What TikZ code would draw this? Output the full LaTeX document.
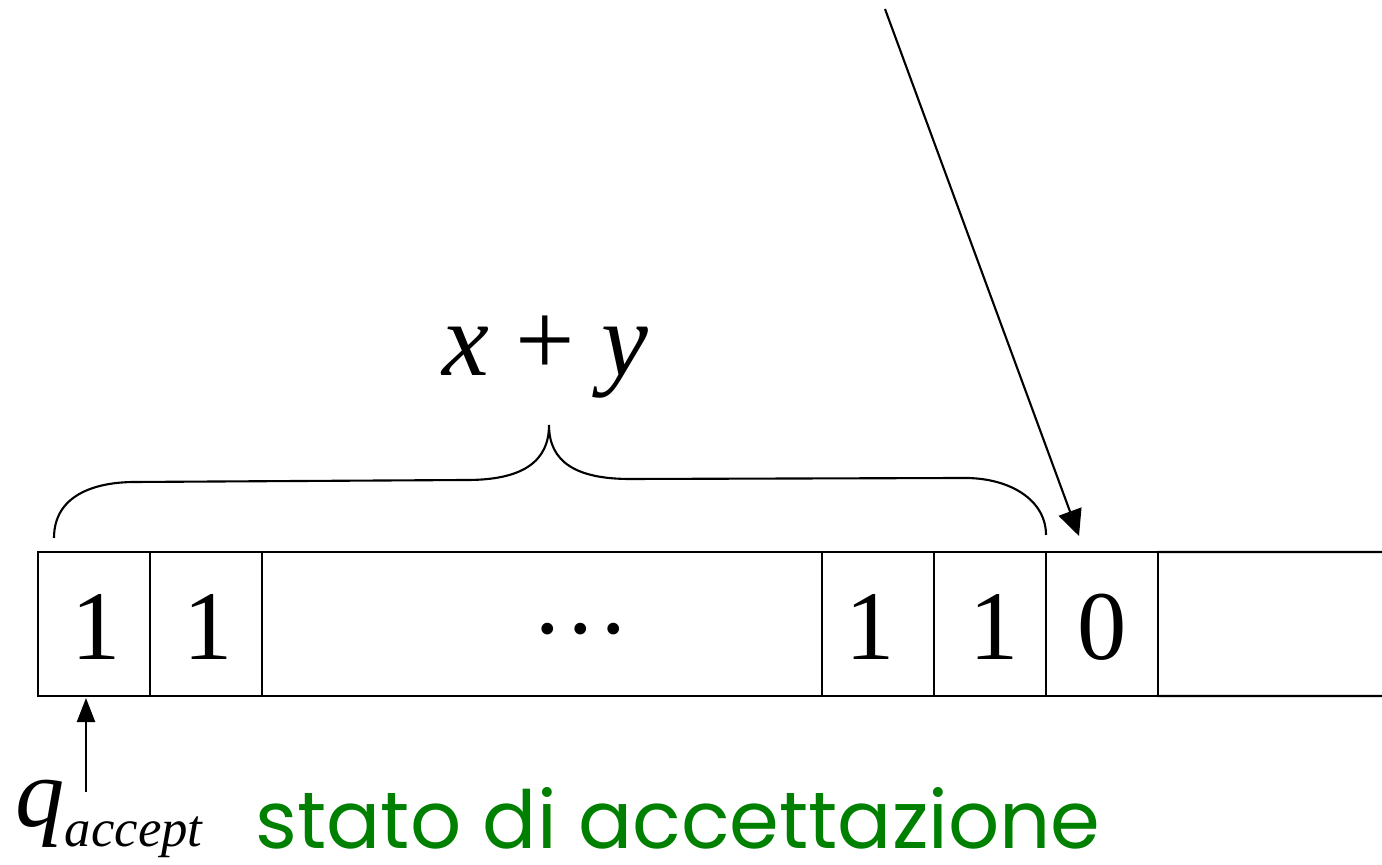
\documentclass[tikz,border=0pt]{standalone}
\usepackage{fontspec}
\setmainfont{Liberation Serif}
\newfontfamily\notefont{Poppins}
\usepackage{tikz}
\usetikzlibrary{arrows.meta}
\definecolor{notegreen}{RGB}{0,128,0}
\tikzset{
  cellbox/.style  = {draw,semithick,minimum width=1.12cm,minimum height=1.44cm,inner sep=0pt,outer sep=0pt},
  symb/.style     = {font=\fontsize{28}{30}\selectfont,inner sep=0pt},
  headarr/.style  = {-{Triangle[length=2.6mm,width=2.4mm]},semithick},
  brace/.style    = {semithick}
}
\begin{document}
\begin{tikzpicture}[x=0.01cm,y=-0.01cm]
  \useasboundingbox (0,0) rectangle (1382,865);
  % tape cells
  \node[cellbox] (c1) at (94,624) {};
  \node[cellbox] (c2) at (206,624) {};
  \node[cellbox,minimum width=5.6cm] (cdots) at (542,624) {};
  \node[cellbox] (c4) at (878,624) {};
  \node[cellbox] (c5) at (990,624) {};
  \node[cellbox] (c6) at (1102,624) {};
  \coordinate (tapeNE) at (1382,552);
  \coordinate (tapeSE) at (1382,696);
  \draw[semithick] (c6.north east) -- (tapeNE);
  \draw[semithick] (c6.south east) -- (tapeSE);
  % symbols
  \node[symb] (s1) at (96,627) {1};
  \node[symb] (s2) at (208,627) {1};
  \node[symb] (sdots) at (581,629) {…};
  \node[symb] (s4) at (870,627) {1};
  \node[symb] (s5) at (994,627) {1};
  \node[symb] (s6) at (1102,627) {0};
  % brace and its label
  \draw[brace] (54,538) .. controls (54,495) and (95,482) .. (135,482) -- (467,480)
    .. controls (522,480) and (549,462) .. (549,425)
    .. controls (549,462) and (576,479) .. (630,479) -- (965,478)
    .. controls (1010,478) and (1046,500) .. (1046,535);
  \node[font=\fontsize{30}{32}\selectfont,inner sep=0pt] (sum) at (545,357) {\textit{x} + \textit{y}};
  % head arrow
  \coordinate (headtop) at (885,9);
  \coordinate (headtip) at (1079,536);
  \draw[headarr] (headtop) -- (headtip);
  % state
  \node[anchor=base west,inner sep=0pt] (qacc) at (15,827)
    {\fontsize{28}{30}\selectfont\textit{q}\raisebox{-5.5pt}{\fontsize{15}{17}\selectfont\textit{accept}}};
  \coordinate (qtop) at (86,792);
  \coordinate (qhead) at (86,698);
  \draw[headarr,-{Triangle[length=2.4mm,width=1.8mm]}] (qtop) -- (qhead);
  \node[anchor=base west,inner sep=0pt,text=notegreen,font=\notefont\fontsize{22.8}{24}\selectfont] (note) at (255,849) {stato di accettazione};
\end{tikzpicture}
\end{document}
